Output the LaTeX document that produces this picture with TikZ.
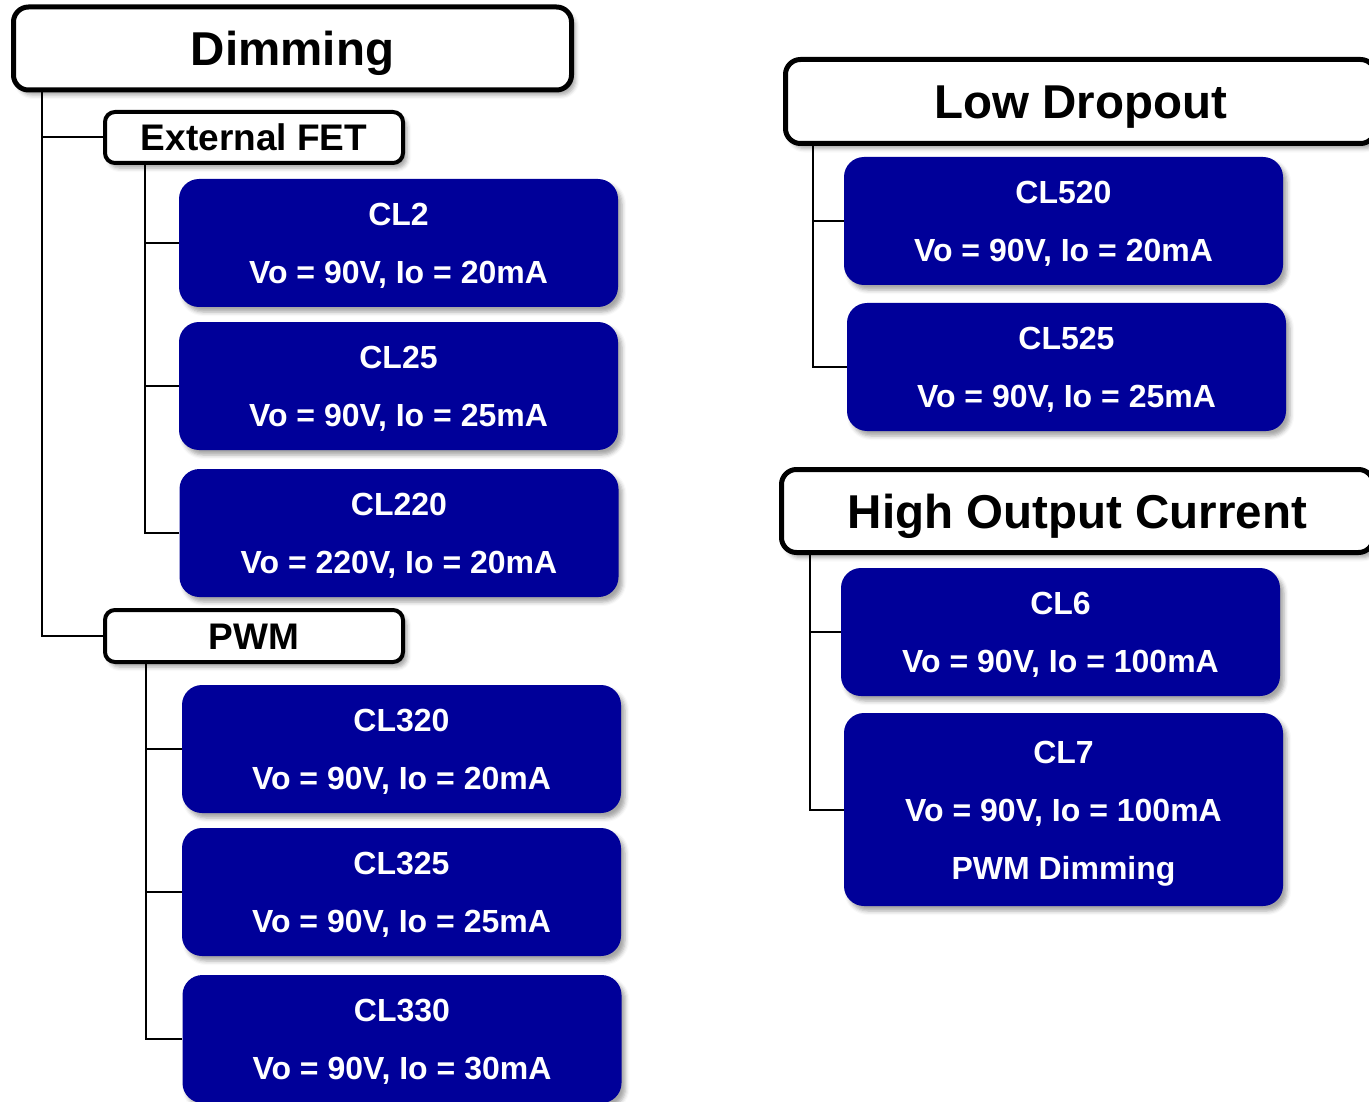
\documentclass[tikz,border=0pt]{standalone}
\usepackage{fontspec}
\setmainfont{Liberation Sans}
\usetikzlibrary{shadows.blur}
\definecolor{partblue}{RGB}{0,0,153}

\tikzset{
  groupbox/.style={draw, line width=5pt, rounded corners=15pt, fill=white, inner sep=0pt,
    font=\bfseries\fontsize{47.5}{50}\selectfont, text height=34pt, text depth=0pt,
    blur shadow={shadow xshift=4pt, shadow yshift=-5pt, shadow blur radius=4pt, shadow opacity=35}},
  subbox/.style={groupbox, line width=4pt, rounded corners=10pt,
    font=\bfseries\fontsize{37}{40}\selectfont, text height=26.5pt},
  partbox/.style={fill=partblue, rounded corners=20pt, text=white, align=center, inner sep=0pt,
    minimum width=439pt, minimum height=128pt, font=\bfseries\fontsize{32}{58}\selectfont,
    text height=81pt, text depth=0pt,
    blur shadow={shadow xshift=4pt, shadow yshift=-5pt, shadow blur radius=4pt, shadow opacity=35}},
  branch/.style={line width=2pt}
}

\begin{document}
\begin{tikzpicture}[x=1pt, y=-1pt]
  \useasboundingbox (0,0) rectangle (1369,1102);

  % left tree
  \node[groupbox, minimum width=558pt, minimum height=83pt] (dim) at (292.5,48.5) {Dimming};
  \node[subbox, minimum width=298pt, minimum height=51pt] (fet) at (254,137.5) {External FET};
  \node[partbox] (cl2) at (398.5,243) {CL2\\Vo = 90V, Io = 20mA};
  \node[partbox] (cl25) at (398.5,386) {CL25\\Vo = 90V, Io = 25mA};
  \node[partbox] (cl220) at (399,533) {CL220\\Vo = 220V, Io = 20mA};
  \node[subbox, minimum width=298pt, minimum height=52pt] (pwm) at (254,636) {PWM};
  \node[partbox] (cl320) at (401.5,749) {CL320\\Vo = 90V, Io = 20mA};
  \node[partbox] (cl325) at (401.5,892) {CL325\\Vo = 90V, Io = 25mA};
  \node[partbox] (cl330) at (402,1039) {CL330\\Vo = 90V, Io = 30mA};

  % right trees
  \node[groupbox, minimum width=590pt, minimum height=84pt] (ldo) at (1080.5,101.5) {Low Dropout};
  \node[partbox] (cl520) at (1063.5,221) {CL520\\Vo = 90V, Io = 20mA};
  \node[partbox] (cl525) at (1066.5,367) {CL525\\Vo = 90V, Io = 25mA};
  \node[groupbox, minimum width=592pt, minimum height=83pt] (hoc) at (1077.5,511) {High Output Current};
  \node[partbox] (cl6) at (1060.5,632) {CL6\\Vo = 90V, Io = 100mA};
  \node[partbox, minimum height=193pt, text height=139pt] (cl7) at (1063.5,809.5) {CL7\\Vo = 90V, Io = 100mA\\PWM Dimming};

  % connectors
  \foreach \n in {fet,pwm}
    \draw[branch] ([xshift=30.5pt]dim.south west) |- (\n.west);
  \foreach \n in {cl2,cl25,cl220}
    \draw[branch] ([xshift=42pt]fet.south west) |- (\n.west);
  \foreach \n in {cl320,cl325,cl330}
    \draw[branch] ([xshift=43pt]pwm.south west) |- (\n.west);
  \foreach \n in {cl520,cl525}
    \draw[branch] ([xshift=29.5pt]ldo.south west) |- (\n.west);
  \foreach \n in {cl6,cl7}
    \draw[branch] ([xshift=30.5pt]hoc.south west) |- (\n.west);
\end{tikzpicture}
\end{document}
